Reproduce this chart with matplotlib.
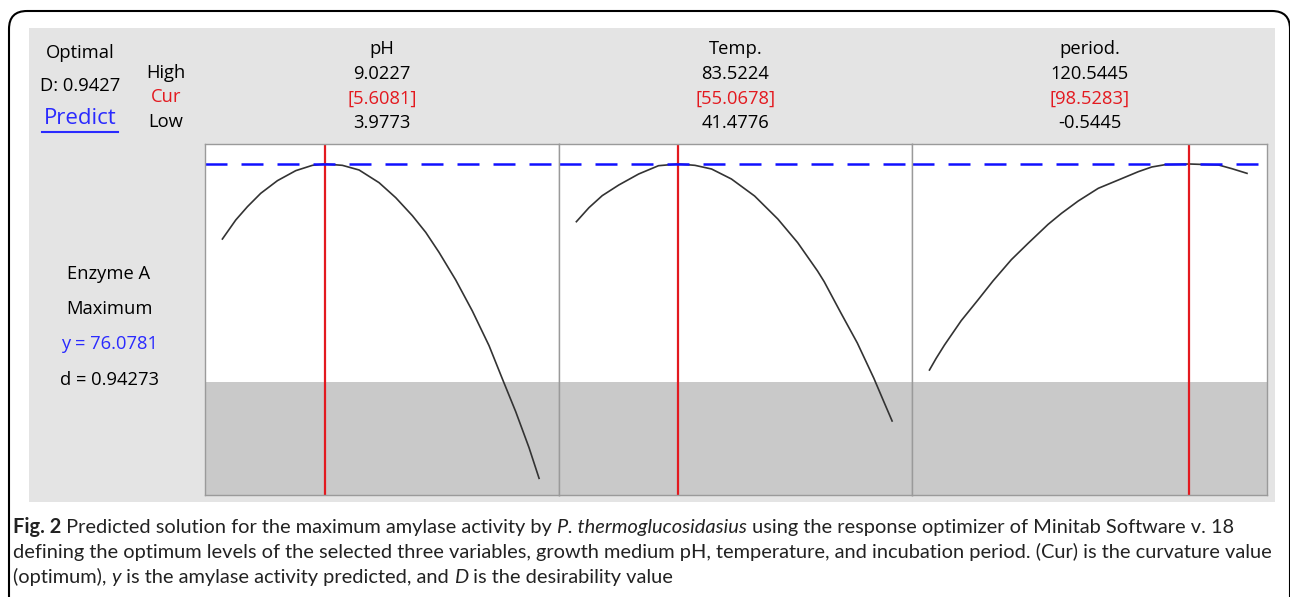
import matplotlib.pyplot as plt
from matplotlib.patches import FancyBboxPatch, Rectangle

# factor settings from the optimizer
factors = ['pH', 'Temp.', 'period.']
high_vals = ['9.0227', '83.5224', '120.5445']
cur_vals = ['[5.6081]', '[55.0678]', '[98.5283]']
low_vals = ['3.9773', '41.4776', '-0.5445']
lows = [3.9773, 41.4776, -0.5445]
highs = [9.0227, 83.5224, 120.5445]
curs = [5.6081, 55.0678, 98.5283]

y_opt = 76.0781
y_lower = 26.0

# predicted response curves
ph_x = [3.977, 4.190, 4.376, 4.588, 4.854, 5.146, 5.411, 5.608, 5.889, 6.155, 6.473,
        6.739, 7.004, 7.217, 7.429, 7.695, 7.960, 8.226, 8.439, 8.651, 8.863, 9.023]
ph_y = [58.84, 63.21, 66.27, 69.34, 72.25, 74.55, 75.77, 76.08, 75.77, 74.70, 71.79,
        68.34, 64.20, 60.37, 55.77, 49.42, 42.29, 34.32, 26.66, 19.15, 10.88, 3.83]

temp_x = [41.478, 43.154, 44.919, 47.125, 49.772, 52.419, 55.068, 57.272, 59.478, 62.125,
          65.213, 68.301, 70.948, 73.594, 74.477, 76.683, 78.889, 81.095, 82.418, 83.522]
temp_y = [62.82, 66.04, 68.80, 71.25, 73.78, 75.69, 76.08, 75.77, 74.93, 72.63,
          68.72, 63.44, 58.00, 51.48, 49.03, 41.91, 34.94, 26.82, 21.45, 17.01]

period_x = [-0.545, 2.004, 5.191, 11.564, 17.937, 23.673, 30.683, 37.056, 44.704, 49.803,
            56.176, 63.824, 71.472, 79.119, 84.218, 89.317, 98.528, 109.710, 114.809, 120.545]
period_y = [28.73, 31.41, 34.48, 40.07, 44.82, 49.19, 54.09, 57.84, 62.21, 64.74,
            67.57, 70.49, 72.40, 74.32, 75.39, 75.92, 76.08, 75.85, 75.00, 73.93]

curves = [(ph_x, ph_y), (temp_x, temp_y), (period_x, period_y)]

W, H = 1290, 597
fig = plt.figure(figsize=(W / 100, H / 100), dpi=100)

# background layer in pixel coordinates
bg = fig.add_axes([0, 0, 1, 1])
bg.set_xlim(0, W)
bg.set_ylim(H, 0)
bg.axis('off')
bg.add_patch(FancyBboxPatch((9, 11), 1281, 640, boxstyle='round,pad=0,rounding_size=18',
                            fill=False, ec='black', lw=1.5))
bg.add_patch(Rectangle((29, 28), 1246, 474, color='#e4e4e4', lw=0))

font = 'Open Sans'
fs = 13.2
blue = '#2a2aff'
red = '#e3191f'

# panels
edges = [205, 559, 912, 1267]
top_px, bot_px = 144, 495
for i in range(3):
    l, r = edges[i], edges[i + 1]
    ax = fig.add_axes([l / W, 1 - bot_px / H, (r - l) / W, (bot_px - top_px) / H])
    rng = highs[i] - lows[i]
    ax.set_xlim(lows[i] - 0.055 * rng, highs[i] + 0.063 * rng)
    ax.set_ylim(0, y_opt * (bot_px - top_px) / (bot_px - 164))
    ax.set_facecolor('white')
    ax.axhspan(0, y_lower, color='#c9c9c9', lw=0)
    x, y = curves[i]
    ax.plot(x, y, color='#333333', lw=1.2)
    ax.axvline(curs[i], color=red, lw=1.6)
    ax.axhline(y_opt, color='#1010ff', lw=1.8, ls=(0, (8.8, 5.6)))
    ax.set_xticks([])
    ax.set_yticks([])
    for s in ax.spines.values():
        s.set_color('#9a9a9a')
        s.set_linewidth(1.0)

    cx = (l + r) / 2
    bg.text(cx, 49, factors[i], ha='center', va='center', fontsize=fs, family=font)
    bg.text(cx, 74, high_vals[i], ha='center', va='center', fontsize=fs, family=font)
    bg.text(cx, 99, cur_vals[i], ha='center', va='center', fontsize=fs, family=font, color=red)
    bg.text(cx, 123, low_vals[i], ha='center', va='center', fontsize=fs, family=font)

# left side labels
bg.text(80, 53, 'Optimal', ha='center', va='center', fontsize=fs, family=font)
bg.text(80, 86, 'D: 0.9427', ha='center', va='center', fontsize=fs, family=font)
bg.text(80, 119, 'Predict', ha='center', va='center', fontsize=16, family=font, color=blue)
bg.plot([42, 118], [132, 132], color=blue, lw=1.5)
bg.text(166, 73, 'High', ha='center', va='center', fontsize=fs, family=font)
bg.text(166, 97, 'Cur', ha='center', va='center', fontsize=fs, family=font, color=red)
bg.text(166, 122, 'Low', ha='center', va='center', fontsize=fs, family=font)

bg.text(109, 274, 'Enzyme A', ha='center', va='center', fontsize=fs, family=font)
bg.text(109, 309, 'Maximum', ha='center', va='center', fontsize=fs, family=font)
bg.text(109, 344, 'y = 76.0781', ha='center', va='center', fontsize=fs, family=font, color=blue)
bg.text(109, 380, 'd = 0.94273', ha='center', va='center', fontsize=fs, family=font)

# caption
cap_font = 'Lato'
cap_size = 14.4
rend = fig.canvas.get_renderer()


def put_line(segs, x, y):
    for s, st in segs:
        t = bg.text(x, y, s, ha='left', va='baseline', fontsize=cap_size, family=cap_font,
                    color='#222222', **st)
        x += t.get_window_extent(renderer=rend).width


n, b, it = {}, {'fontweight': 'bold'}, {'style': 'italic'}
put_line([('Fig. 2', b), (' Predicted solution for the maximum amylase activity by ', n),
          ('P. thermoglucosidasius', it),
          (' using the response optimizer of Minitab Software v. 18', n)], 13, 533)
put_line([('defining the optimum levels of the selected three variables, growth medium pH, '
           'temperature, and incubation period. (Cur) is the curvature value', n)], 13, 558)
put_line([('(optimum), ', n), ('y', it), (' is the amylase activity predicted, and ', n),
          ('D', it), (' is the desirability value', n)], 13, 583)

fig.savefig('out.png', dpi=100)
